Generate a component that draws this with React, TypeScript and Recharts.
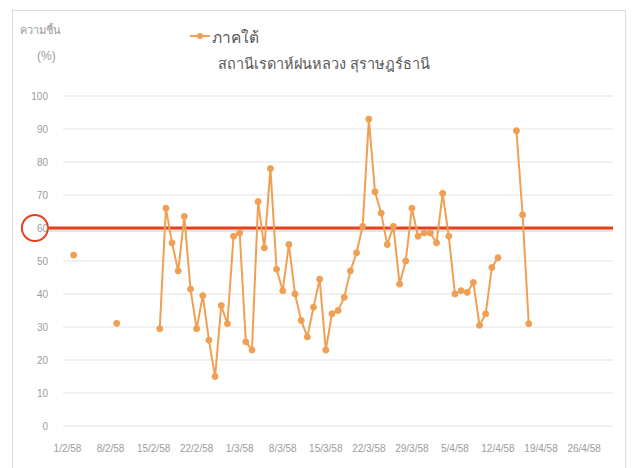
import React from 'react';
import { LineChart, Line, XAxis, YAxis, CartesianGrid, ReferenceLine, ReferenceDot } from 'recharts';

// Day offsets from 1/2/58 (day 0)
const firstDay = 1;
const humidity: (number | null)[] = [
  51.8, null, null, null, null, null, null, // d1-d7
  31.1, null, null, null, null, null, null, // d8-d14
  29.5, // d15
  66, 55.5, 47, 63.5, 41.5, 29.5, 39.5, 26, 15, 36.5, // d16-25
  31, 57.5, 58.5, 25.5, 23, 68, 54, 78, 47.5, 41, // d26-35
  55, 40, 32, 27, 36, 44.5, 23, 34, 35, 39, // d36-45
  47, 52.5, 60.5, 93, 71, 64.5, 55, 60.5, 43, 50, // d46-55
  66, 57.5, 58.5, 58.5, 55.5, 70.5, 57.5, 40, 41, 40.5, // d56-65
  43.5, 30.5, 34, 48, 51, // d66-70
  null, null, // d71-72
  89.5, 64, 31, // d73-75
];

const xTickDays = [0, 7, 14, 21, 28, 35, 42, 49, 56, 63, 70, 77, 84];
const xTickLabels = ['1/2/58', '8/2/58', '15/2/58', '22/2/58', '1/3/58', '8/3/58', '15/3/58', '22/3/58', '29/3/58', '5/4/58', '12/4/58', '19/4/58', '26/4/58'];
const yTicks = [0, 10, 20, 30, 40, 50, 60, 70, 80, 90, 100];
const threshold = 60;
const thresholdStartDay = -3.1;
const thresholdEndDay = 88.7;
const circleDay = -5.3;

const data = humidity.map((v, i) => ({ day: firstDay + i, value: v }));

const LINE_COLOR = '#F0A052';
const RED = '#E8401C';
const FONT = '"Liberation Sans", "Noto Sans", "DejaVu Sans", sans-serif';

export default function App() {
  return (
    <div style={{ position: 'absolute', left: 0, top: 0, width: 634, height: 468, background: '#fff', overflow: 'hidden', fontFamily: FONT }}>
      <div style={{ position: 'absolute', left: 12, top: 10, width: 614, height: 480, border: '1px solid #dcdcdc', boxSizing: 'border-box' }} />
      <div style={{ position: 'absolute', left: 0, top: 0 }}>
        <LineChart width={634} height={468} data={data} margin={{ top: 96, right: 21, bottom: 0, left: 23 }}>
          <CartesianGrid vertical={false} stroke="#e3e3e3" />
          <XAxis
            dataKey="day"
            type="number"
            domain={[-0.73, 88.7]}
            allowDataOverflow
            ticks={xTickDays}
            tickFormatter={(v: number) => xTickLabels[xTickDays.indexOf(v)] ?? ''}
            axisLine={false}
            tickLine={false}
            tickSize={0}
            tickMargin={19}
            height={42}
            interval={0}
            tick={{ fill: '#9c9c9c', fontSize: 10, fontFamily: FONT }}
          />
          <YAxis
            type="number"
            domain={[0, 100]}
            ticks={yTicks}
            width={40}
            axisLine={false}
            tickLine={false}
            tickSize={0}
            tickMargin={15}
            tick={{ fill: '#9c9c9c', fontSize: 10, fontFamily: FONT }}
          />
          <ReferenceLine
            segment={[{ x: thresholdStartDay, y: threshold - 0.6 }, { x: thresholdEndDay, y: threshold - 0.6 }]}
            stroke="rgba(0,0,0,0.10)"
            strokeWidth={4}
            ifOverflow="visible"
          />
          <ReferenceLine
            segment={[{ x: thresholdStartDay, y: threshold }, { x: thresholdEndDay, y: threshold }]}
            stroke={RED}
            strokeWidth={3}
            ifOverflow="visible"
          />
          <ReferenceDot x={circleDay} y={threshold} r={13} fill="none" stroke={RED} strokeWidth={2} ifOverflow="visible" />
          <Line
            type="linear"
            dataKey="value"
            stroke={LINE_COLOR}
            strokeWidth={2}
            dot={{ r: 3, fill: LINE_COLOR, stroke: LINE_COLOR, strokeWidth: 1 }}
            connectNulls={false}
            isAnimationActive={false}
          />
        </LineChart>
      </div>
      <div style={{ position: 'absolute', left: 20, top: 21, fontSize: 11, color: '#9a9a9a', whiteSpace: 'nowrap' }}>ความชื้น</div>
      <div style={{ position: 'absolute', left: 37, top: 49, fontSize: 12, color: '#9a9a9a' }}>(%)</div>
      <svg style={{ position: 'absolute', left: 188, top: 28 }} width={24} height={16}>
        <line x1={2} y1={8} x2={22} y2={8} stroke={LINE_COLOR} strokeWidth={2} />
        <circle cx={12} cy={8} r={3} fill={LINE_COLOR} />
      </svg>
      <div style={{ position: 'absolute', left: 212, top: 25, fontSize: 15.5, color: '#595959', whiteSpace: 'nowrap' }}>ภาคใต้</div>
      <div style={{ position: 'absolute', left: 218, top: 52, fontSize: 14.5, color: '#595959', whiteSpace: 'nowrap' }}>สถานีเรดาห์ฝนหลวง สุราษฎร์ธานี</div>
    </div>
  );
}
